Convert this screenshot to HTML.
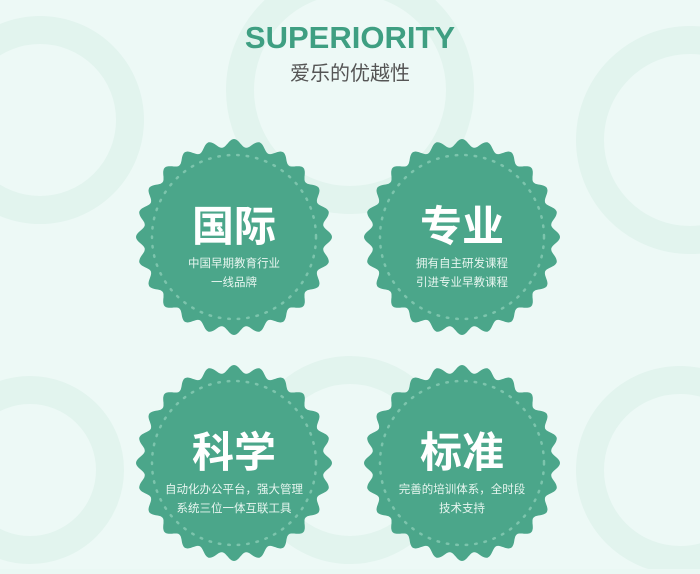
<!DOCTYPE html>
<html><head><meta charset="utf-8"><style>
body{margin:0;width:700px;height:569px;overflow:hidden;background:#eaf8f4;font-family:"Liberation Sans","Noto Sans CJK SC",sans-serif;}
</style></head><body>
<svg width="700" height="569" viewBox="0 0 700 569">
<rect width="700" height="569" fill="#edf9f6"/>
<g fill="none" stroke="#e2f4ee" stroke-width="28">
<circle cx="350" cy="90" r="110"/>
<circle cx="40" cy="120" r="90"/>
<circle cx="690" cy="140" r="100"/>
<circle cx="350" cy="460" r="90"/>
<circle cx="30" cy="470" r="80"/>
<circle cx="680" cy="470" r="90"/>
</g>
<text x="350" y="48" text-anchor="middle" font-size="31" font-weight="bold" fill="#3f9f82">SUPERIORITY</text>
<text x="350" y="80" text-anchor="middle" font-size="20" fill="#555" font-family="Noto Sans CJK SC,sans-serif">爱乐的优越性</text>
<g id="badges"></g>
</svg>
<script>
const cx=[234,462,234,462], cy=[237,237,463,463];
const titles=["国际","专业","科学","标准"];
const l1=["中国早期教育行业","拥有自主研发课程","自动化办公平台，强大管理","完善的培训体系，全时段"];
const l2=["一线品牌","引进专业早教课程","系统三位一体互联工具","技术支持"];
const names=["badge-international","badge-professional","badge-science","badge-standard"];
const g=document.getElementById('badges');
const NS="http://www.w3.org/2000/svg";
function mk(t,a){const e=document.createElementNS(NS,t);for(const k in a)e.setAttribute(k,a[k]);return e;}
for(let i=0;i<4;i++){
 const grp=mk('g',{});
 
 
 let d="";const N=480,B=24;
 for(let k=0;k<=N;k++){const a=k/N*2*Math.PI;const r=94+4*Math.cos(B*a);d+=(k?"L":"M")+(cx[i]+r*Math.cos(a)).toFixed(1)+","+(cy[i]+r*Math.sin(a)).toFixed(1);}
 grp.appendChild(mk('path',{d:d+"Z",fill:"#4ba68a"}));
 grp.appendChild(mk('circle',{cx:cx[i],cy:cy[i],r:82,fill:"none",stroke:"#7cc4ac","stroke-width":2.5,"stroke-dasharray":"1.5 8","stroke-linecap":"round"}));
 const t=mk('text',{x:cx[i],y:cy[i]+4,"text-anchor":"middle","font-size":42,"font-weight":"bold",fill:"#fff","font-family":"Noto Sans CJK SC,sans-serif"});
 t.textContent=titles[i];
 
 
 grp.appendChild(t);
 const a=mk('text',{x:cx[i],y:cy[i]+30,"text-anchor":"middle","font-size":11.5,fill:"#e6f5ef","font-family":"Noto Sans CJK SC,sans-serif"});
 a.textContent=l1[i];
 
 
 grp.appendChild(a);
 const b=mk('text',{x:cx[i],y:cy[i]+49,"text-anchor":"middle","font-size":11.5,fill:"#e6f5ef","font-family":"Noto Sans CJK SC,sans-serif"});
 b.textContent=l2[i];
 
 
 grp.appendChild(b);
 g.appendChild(grp);
}
</script>
</body></html>
